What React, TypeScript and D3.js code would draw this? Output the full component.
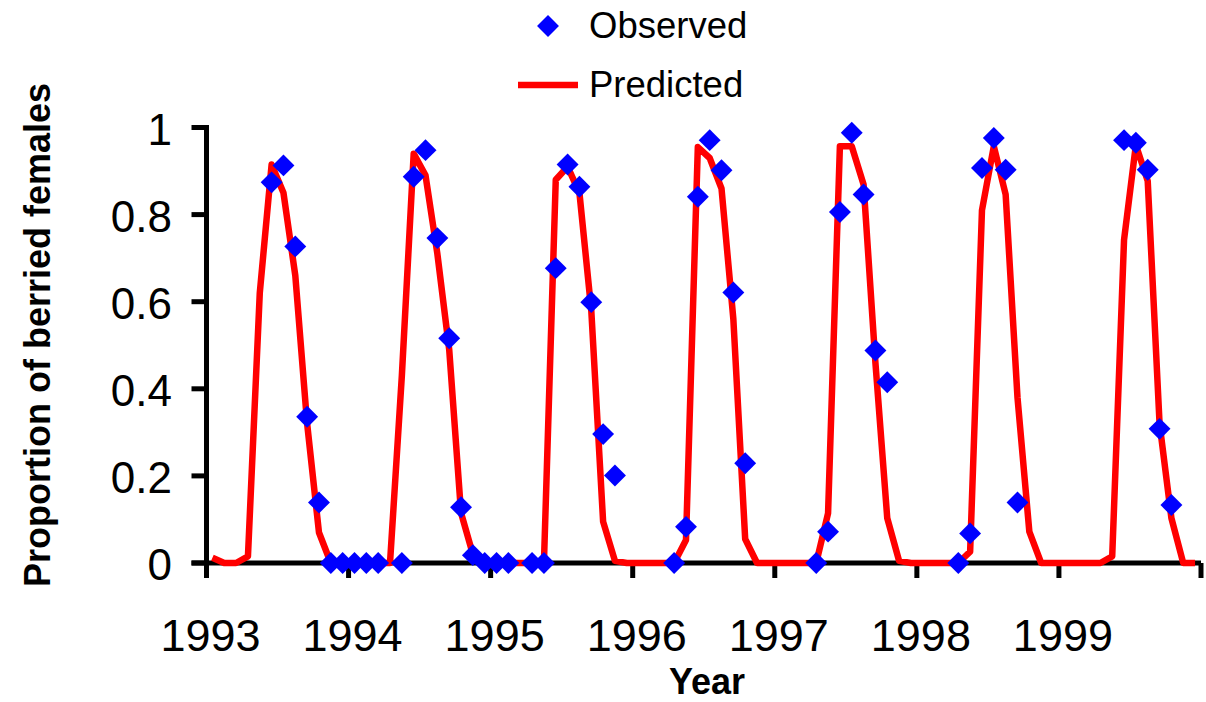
import React from 'react';
import * as d3 from 'd3';

// Predicted proportion, one value per month (Jan..Dec)
const predicted1993 = [0.012, 0, 0, 0.015, 0.62, 0.915, 0.85, 0.66, 0.32, 0.07, 0, 0];
const predicted1994 = [0, 0, 0, 0, 0.43, 0.94, 0.89, 0.71, 0.49, 0.115, 0.02, 0];
const predicted1995 = [0, 0, 0, 0, 0, 0.88, 0.91, 0.85, 0.58, 0.095, 0.005, 0];
const predicted1996 = [0, 0, 0, 0, 0.053, 0.955, 0.93, 0.86, 0.56, 0.055, 0, 0];
const predicted1997 = [0, 0, 0, 0, 0.114, 0.957, 0.957, 0.869, 0.46, 0.103, 0.005, 0];
const predicted1998 = [0, 0, 0, 0, 0.026, 0.81, 0.957, 0.846, 0.38, 0.072, 0, 0];
const predicted1999 = [0, 0, 0, 0, 0.015, 0.742, 0.96, 0.877, 0.32, 0.103, 0, 0];

// Observed samples (year-month, proportion)
const observedMonths = [
  '1993-06', '1993-07', '1993-08', '1993-09', '1993-10', '1993-11', '1993-12',
  '1994-01', '1994-02', '1994-03', '1994-05', '1994-06', '1994-07', '1994-08',
  '1994-09', '1994-10', '1994-11', '1994-12',
  '1995-01', '1995-02', '1995-04', '1995-05', '1995-06', '1995-07', '1995-08',
  '1995-09', '1995-10', '1995-11',
  '1996-04', '1996-05', '1996-06', '1996-07', '1996-08', '1996-09', '1996-10',
  '1997-04', '1997-05', '1997-06', '1997-07', '1997-08', '1997-09', '1997-10',
  '1998-04', '1998-05', '1998-06', '1998-07', '1998-08', '1998-09',
  '1999-06', '1999-07', '1999-08', '1999-09', '1999-10',
];
const observedValues = [
  0.874, 0.913, 0.727, 0.336, 0.139, 0, 0,
  0, 0, 0, 0, 0.887, 0.948, 0.746,
  0.516, 0.128, 0.018, 0,
  0, 0, 0, 0, 0.677, 0.915, 0.864,
  0.599, 0.296, 0.201,
  0, 0.083, 0.841, 0.971, 0.902, 0.621, 0.229,
  0, 0.072, 0.806, 0.988, 0.846, 0.488, 0.415,
  0, 0.068, 0.907, 0.976, 0.903, 0.139,
  0.971, 0.965, 0.903, 0.308, 0.133,
];

const yearTicks = [1993, 1994, 1995, 1996, 1997, 1998, 1999, 2000];
const yearLabels = ['1993', '1994', '1995', '1996', '1997', '1998', '1999', ''];
const yTicks = [0, 0.2, 0.4, 0.6, 0.8, 1];
const yTickLabels = ['0', '0.2', '0.4', '0.6', '0.8', '1'];

const width = 1206;
const height = 702;
const font = '"Liberation Sans", Arial, Helvetica, sans-serif';

const App = () => {
  const x = d3.scaleLinear().domain([1993, 2000]).range([206.5, 1201]);
  const y = d3.scaleLinear().domain([0, 1]).range([563, 127.5]);

  const predictedAll = [
    predicted1993, predicted1994, predicted1995, predicted1996,
    predicted1997, predicted1998, predicted1999,
  ];
  const predicted = predictedAll.flatMap((vals, k) =>
    vals.map((v, m) => ({ t: 1993 + k + (m + 0.5) / 12, v }))
  );

  const observed = observedMonths.map((s, i) => {
    const [yy, mm] = s.split('-').map(Number);
    return { t: yy + (mm - 0.5) / 12, v: observedValues[i] };
  });

  const line = d3.line<{ t: number; v: number }>()
    .x(d => x(d.t))
    .y(d => y(d.v));

  // square turned 45deg = Excel-style diamond marker
  const diamond = d3.symbol().type(d3.symbolSquare).size(240)();

  const axisW = 5;
  const tickLen = 15;

  return (
    <svg
      width={width}
      height={height}
      style={{ position: 'absolute', left: 0, top: 0, background: '#fff' }}
      fontFamily={font}
    >
      {/* legend */}
      <path d={diamond!} fill="#0000FF" transform="translate(548,26) rotate(45)" />
      <text x={589} y={38} fontSize={36.5} fill="#000">Observed</text>
      <line x1={518} x2={578} y1={85} y2={85} stroke="#FF0000" strokeWidth={6.5} />
      <text x={589} y={97} fontSize={36.5} fill="#000">Predicted</text>

      {/* y axis */}
      <line x1={x(1993)} x2={x(1993)} y1={y(1) - axisW / 2} y2={y(0)} stroke="#000" strokeWidth={axisW} />
      {yTicks.map((t, i) => (
        <g key={t}>
          <line x1={x(1993) - tickLen} x2={x(1993)} y1={y(t)} y2={y(t)} stroke="#000" strokeWidth={axisW} />
          <text x={172} y={y(t) + 17} fontSize={44} textAnchor="end" fill="#000">
            {yTickLabels[i]}
          </text>
        </g>
      ))}

      {/* x axis */}
      <line x1={x(1993) - tickLen} x2={x(2000)} y1={y(0)} y2={y(0)} stroke="#000" strokeWidth={axisW} />
      {yearTicks.map((yr, i) => (
        <g key={yr}>
          <line x1={x(yr)} x2={x(yr)} y1={y(0)} y2={y(0) + tickLen} stroke="#000" strokeWidth={axisW} />
          <text x={x(yr) + 4} y={651} fontSize={45} textAnchor="middle" fill="#000">
            {yearLabels[i]}
          </text>
        </g>
      ))}

      {/* axis titles */}
      <text x={707} y={694} fontSize={36} fontWeight="bold" textAnchor="middle" fill="#000">
        Year
      </text>
      <text
        transform="translate(50,335) rotate(-90)"
        fontSize={36}
        fontWeight="bold"
        textAnchor="middle"
        fill="#000"
      >
        Proportion of berried females
      </text>

      {/* predicted */}
      <path d={line(predicted)!} fill="none" stroke="#FF0000" strokeWidth={6.5} strokeLinejoin="round" />

      {/* observed */}
      {observed.map((d, i) => (
        <path
          key={i}
          d={diamond!}
          fill="#0000FF"
          transform={`translate(${x(d.t)},${y(d.v)}) rotate(45)`}
        />
      ))}
    </svg>
  );
};

export default App;
